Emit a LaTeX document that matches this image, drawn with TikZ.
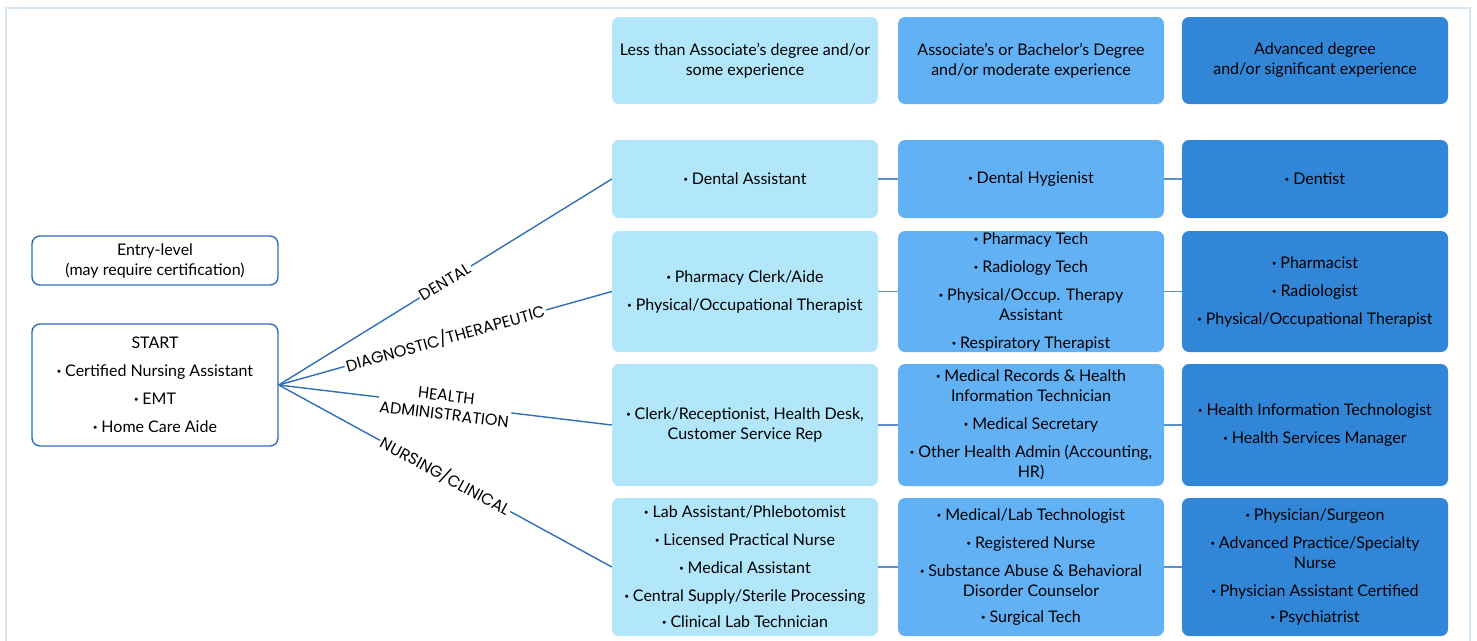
\documentclass[tikz,border=0pt]{standalone}
\usepackage{fontspec}
\setmainfont{Lato}
\newfontfamily\labelfont{Poppins}
\definecolor{cA}{HTML}{B1E6FB}
\definecolor{cB}{HTML}{63B1F5}
\definecolor{cC}{HTML}{3286D7}
\definecolor{edgeblue}{HTML}{2F6EB8}
\definecolor{hedgeblue}{HTML}{5B8FC7}
\definecolor{framecol}{HTML}{D4E7F2}
\newcommand\bul{\textbf{·}\hspace{4pt}}
\begin{document}
\begin{tikzpicture}[x=1pt,y=-1pt,
  cell/.style={rounded corners=7pt, minimum width=266pt, align=center, inner sep=0pt,
    font=\fontsize{16}{20}\selectfont, text=black},
  colA/.style={cell, fill=cA},
  colB/.style={cell, fill=cB},
  colC/.style={cell, fill=cC},
  leftbox/.style={draw=edgeblue, line width=1.4pt, rounded corners=8pt, fill=white,
    minimum width=246pt, align=center, inner sep=0pt, font=\fontsize{16}{20}\selectfont},
  branch/.style={draw=edgeblue, line width=1.4pt},
  hlink/.style={draw=hedgeblue, line width=1.3pt},
  lab/.style={fill=white, inner sep=1.5pt, sloped, pos=0.5, align=center,
    font=\labelfont\fontsize{16}{19}\selectfont},
]
\clip (0,0) rectangle (1477,640);
\draw[framecol, line width=2pt] (6,8) rectangle (1470,700);

% headers
\node[colA, minimum height=87pt] (hA) at (745,60.5) {Less than Associate’s degree and/or\\some experience};
\node[colB, minimum height=87pt] (hB) at (1031,60.5) {Associate’s or Bachelor’s Degree\\and/or moderate experience};
\node[colC, minimum height=87pt] (hC) at (1315,60.5) {Advanced degree\\and/or significant experience};

% row 1
\node[colA, minimum height=78pt] (r1A) at (745,179) {\bul Dental Assistant};
\node[colB, minimum height=78pt] (r1B) at (1031,179) {\bul Dental Hygienist};
\node[colC, minimum height=78pt] (r1C) at (1315,179) {\bul Dentist};

% row 2
\node[colA, minimum height=121pt] (r2A) at (745,291.5) {\bul Pharmacy Clerk/Aide\\[8pt]\bul Physical/Occupational Therapist};
\node[colB, minimum height=121pt] (r2B) at (1031,291.5) {\bul Pharmacy Tech\\[8pt]\bul Radiology Tech\\[8pt]\bul Physical/Occup. Therapy\\Assistant\\[8pt]\bul Respiratory Therapist};
\node[colC, minimum height=121pt] (r2C) at (1315,291.5) {\bul Pharmacist\\[8pt]\bul Radiologist\\[8pt]\bul Physical/Occupational Therapist};

% row 3
\node[colA, minimum height=122pt] (r3A) at (745,425) {\bul Clerk/Receptionist, Health Desk,\\Customer Service Rep};
\node[colB, minimum height=122pt] (r3B) at (1031,425) {\bul Medical Records \& Health\\Information Technician\\[8pt]\bul Medical Secretary\\[8pt]\bul Other Health Admin (Accounting,\\HR)};
\node[colC, minimum height=122pt] (r3C) at (1315,425) {\bul Health Information Technologist\\[8pt]\bul Health Services Manager};

% row 4
\node[colA, minimum height=138pt] (r4A) at (745,567) {\bul Lab Assistant/Phlebotomist\\[8pt]\bul Licensed Practical Nurse\\[8pt]\bul Medical Assistant\\[8pt]\bul Central Supply/Sterile Processing\\[6pt]\bul Clinical Lab Technician};
\node[colB, minimum height=138pt] (r4B) at (1031,567) {\bul Medical/Lab Technologist\\[8pt]\bul Registered Nurse\\[8pt]\bul Substance Abuse \& Behavioral\\Disorder Counselor\\[6pt]\bul Surgical Tech};
\node[colC, minimum height=138pt] (r4C) at (1315,567) {\bul Physician/Surgeon\\[8pt]\bul Advanced Practice/Specialty\\Nurse\\[8pt]\bul Physician Assistant Certified\\[6pt]\bul Psychiatrist};

% left boxes
\node[leftbox, minimum height=49pt] (entry) at (155,260.5) {Entry-level\\(may require certification)};
\node[leftbox, minimum height=122pt] (start) at (155,385) {START\\[8pt]\bul Certified Nursing Assistant\\[8pt]\bul EMT\\[8pt]\bul Home Care Aide};

% branches
\draw[branch] (start.east) -- node[lab]{DENTAL} (r1A.west);
\draw[branch] (start.east) -- node[lab]{DIAGNOSTIC/THERAPEUTIC} (r2A.west);
\draw[branch] (start.east) -- node[lab]{HEALTH\\ADMINISTRATION} (r3A.west);
\draw[branch] (start.east) -- node[lab]{NURSING/CLINICAL} (r4A.west);

% horizontal links
\foreach \r in {1,2,3,4}{
  \draw[hlink] (r\r A.east) -- (r\r B.west);
  \draw[hlink] (r\r B.east) -- (r\r C.west);
}
\end{tikzpicture}
\end{document}
